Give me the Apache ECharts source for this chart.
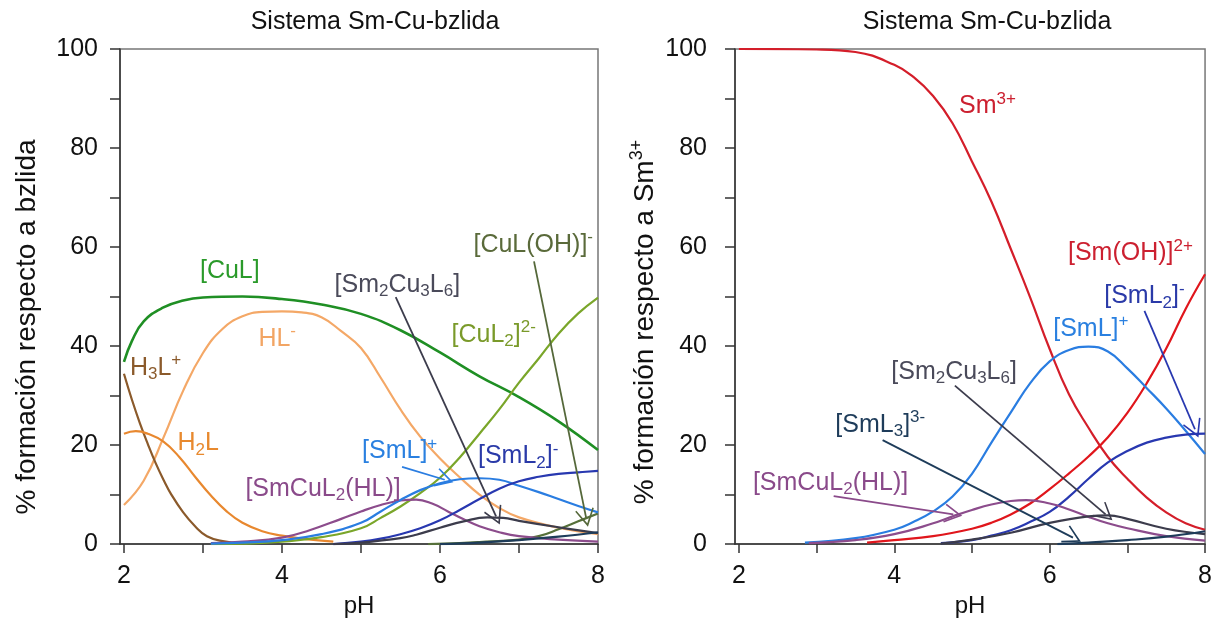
<!DOCTYPE html>
<html>
<head>
<meta charset="utf-8">
<script src="https://cdn.jsdelivr.net/npm/echarts@6/dist/echarts.min.js"></script>
<style>
  html, body { margin: 0; padding: 0; background: #ffffff; }
  #chart { width: 1215px; height: 623px; }
</style>
</head>
<body>
<div id="chart"></div>
<script>
// ---- Species distribution, % relative to bzlida (left panel) ----
const cuL      = [[2,36.8],[2.1,41],[2.25,45],[2.5,47.8],[2.75,49.2],[3,49.8],[3.5,50],[4,49.5],[4.5,48.4],[5,46.5],[5.5,43.2],[6,38.7],[6.5,33.9],[7,29.7],[7.5,24.8],[8,19]];
const hL       = [[2,7.9],[2.25,12.8],[2.5,21.5],[2.75,31],[3,38.6],[3.25,43.5],[3.5,46],[3.75,46.9],[4,47],[4.25,46.8],[4.5,45.8],[4.75,43],[5,39.6],[5.25,33.6],[5.5,27.2],[5.75,21.7],[6,17.3],[6.25,13.5],[6.5,10],[6.75,7.3],[7,5.4],[7.5,3.3],[8,2]];
const h3L      = [[2,34.4],[2.1,29.2],[2.2,24.5],[2.3,20.3],[2.4,16.4],[2.5,13],[2.6,10],[2.75,6.4],[2.9,3.6],[3.05,1.6],[3.25,0.6],[3.5,0.15]];
const h2L      = [[2,22.3],[2.15,22.8],[2.3,22.3],[2.5,20.7],[2.7,17.6],[2.9,13.6],[3.1,9.8],[3.3,6.6],[3.5,4.3],[3.75,2.6],[4,1.7],[4.3,1],[4.65,0.5]];
const smCuL2HL = [[3.1,0.2],[3.5,0.5],[4,1.3],[4.35,2.8],[4.75,5.1],[5,6.6],[5.25,7.9],[5.5,8.8],[5.7,9],[5.9,8.2],[6.1,6.6],[6.3,5],[6.5,3.6],[6.75,2.4],[7,1.6],[7.5,0.9],[8,0.5]];
const smL      = [[3.1,0.1],[3.5,0.3],[4,0.8],[4.5,2],[5,4.3],[5.25,6.6],[5.5,8.9],[5.75,10.9],[6,12.3],[6.25,13.1],[6.5,13.3],[6.75,13],[7,11.8],[7.25,10.5],[7.5,9.1],[7.75,7.7],[8,6.4]];
const cuL2     = [[3.1,0],[3.5,0.1],[4,0.5],[4.5,1.4],[5,3.2],[5.25,5.3],[5.5,7.6],[5.75,10.3],[6,13.4],[6.25,17.5],[6.5,22.3],[6.75,27.2],[7,32.6],[7.25,37.5],[7.5,42.5],[7.75,46.6],[8,49.8]];
const cuLOH    = [[5.85,0],[6.25,0.2],[6.5,0.4],[7,0.9],[7.25,1.6],[7.5,3],[7.75,4.6],[8,6.2]];
const smL2     = [[4.65,0],[5,0.5],[5.25,1.1],[5.5,2],[5.75,3.2],[6,4.8],[6.25,6.9],[6.5,9.1],[6.75,11.2],[7,12.7],[7.25,13.6],[7.5,14.2],[7.75,14.5],[8,14.8]];
const sm2Cu3L6 = [[4.65,0],[5,0.3],[5.5,1.2],[5.7,1.9],[6,3.3],[6.3,4.6],[6.6,5.4],[6.8,5.3],[7,4.7],[7.5,3.4],[8,2.2]];
const smL3     = [[6,0],[6.5,0.3],[7,0.8],[7.5,1.5],[8,2.4]];

// ---- Species distribution, % relative to Sm3+ (right panel) ----
const sm3R      = [[2,100],[3,99.9],[3.5,99.4],[4,96.8],[4.25,94.3],[4.5,90.5],[4.75,85],[5,77.3],[5.25,69.2],[5.5,59.6],[5.75,49.8],[6,39.4],[6.25,30.2],[6.5,23.5],[6.75,17.6],[7,13.2],[7.25,9.4],[7.5,6.4],[7.75,4.2],[8,2.9]];
const smOHR     = [[3.65,0.3],[4,0.8],[4.5,1.6],[5,3.1],[5.25,4.3],[5.5,6],[5.75,8.2],[6,11.1],[6.25,14.3],[6.5,17.7],[6.75,21.6],[7,26.5],[7.25,32.5],[7.5,39.5],[7.75,47.5],[8,54.5]];
const smLR      = [[2.85,0.3],[3.5,1.2],[4,2.9],[4.25,4.5],[4.5,6.6],[4.75,9.6],[5,14.2],[5.25,20.5],[5.5,26.6],[5.75,32.5],[6,36.9],[6.25,39.2],[6.5,39.9],[6.75,38.9],[7,35.5],[7.25,31.5],[7.5,27.4],[7.75,22.9],[8,18.2]];
const smL2R     = [[4.6,0.2],[5,0.8],[5.25,1.7],[5.5,2.8],[5.75,4.5],[6,6.5],[6.25,9.6],[6.5,13.2],[6.75,16.5],[7,18.8],[7.25,20.5],[7.5,21.5],[7.75,22.1],[8,22.3]];
const smCuL2HLR = [[2.9,0.2],[3.5,0.8],[4,2],[4.5,4.2],[4.75,5.6],[5,6.9],[5.25,8],[5.5,8.7],[5.7,8.9],[6,8.2],[6.25,7],[6.5,5.5],[6.75,4.2],[7,3.2],[7.5,1.6],[8,0.7]];
const sm2Cu3L6R = [[4.6,0.1],[5,0.9],[5.5,2.3],[6,4.3],[6.5,5.6],[6.75,5.8],[7,5.1],[7.5,3.1],[8,2]];
const smL3R     = [[6.1,0],[6.5,0.3],[7,0.8],[7.5,1.5],[8,2.6]];

// ---- Axis ticks ----
const phTicks  = [2, 3, 4, 5, 6, 7, 8];
const phLabels = [2, 4, 6, 8];

// ---- Species labels (text, anchor in pH / %) ----
const leftLabels = [
  { t: '[CuL]', x: 3.34, y: 55.1, c: '#2a9a2a' },
  { t: 'H{sub|3}L{sup|+}', x: 2.4, y: 35.6, c: '#8b5a2b' },
  { t: 'HL{sup|-}', x: 3.94, y: 41.4, c: '#f2a564' },
  { t: 'H{sub|2}L', x: 2.94, y: 20.3, c: '#e8892e' },
  { t: '[SmCuL{sub|2}(HL)]', x: 4.52, y: 11.1, c: '#8a4a8a' },
  { t: '[SmL]{sup|+}', x: 5.49, y: 18.7, c: '#2a80e0' },
  { t: '[SmL{sub|2}]{sup|-}', x: 6.99, y: 17.7, c: '#2a3aa8' },
  { t: '[Sm{sub|2}Cu{sub|3}L{sub|6}]', x: 5.46, y: 52.3, c: '#4a4a5a' },
  { t: '[CuL{sub|2}]{sup|2-}', x: 6.68, y: 42.3, c: '#7a9a2a' },
  { t: '[CuL(OH)]{sup|-}', x: 7.18, y: 60.4, c: '#5a6a3a' }
];
const rightLabels = [
  { t: 'Sm{sup|3+}', x: 5.2, y: 88.4, c: '#cc2030' },
  { t: '[Sm(OH)]{sup|2+}', x: 7.04, y: 58.7, c: '#cc2030' },
  { t: '[SmL{sub|2}]{sup|-}', x: 7.22, y: 50, c: '#2a3aa8' },
  { t: '[SmL]{sup|+}', x: 6.53, y: 43.4, c: '#2a80e0' },
  { t: '[Sm{sub|2}Cu{sub|3}L{sub|6}]', x: 4.77, y: 34.8, c: '#4a4a5a' },
  { t: '[SmL{sub|3}]{sup|3-}', x: 3.82, y: 24, c: '#1e3c5a' },
  { t: '[SmCuL{sub|2}(HL)]', x: 3.18, y: 12.3, c: '#8a4a8a' }
];

// ---- Pointer arrows (from label to curve, in pH / %) ----
const leftArrows = [
  { from: [5.44, 49.9], to: [6.71, 5.6], c: '#3c3c4c' },
  { from: [7.19, 57.1], to: [7.85, 5.3], c: '#55683a' },
  { from: [5.52, 15.6], to: [6.06, 13.0], c: '#2a7de1' }
];
const rightArrows = [
  { from: [3.22, 9.7], to: [4.76, 6.0], c: '#8a4a8a' },
  { from: [3.85, 21], to: [6.3, 1.3], c: '#1e3c5a' },
  { from: [4.78, 32], to: [6.72, 6.0], c: '#3c3c4c' },
  { from: [7.22, 47.1], to: [7.87, 23.2], c: '#2838b0' }
];

const FONT = '"Liberation Sans", Arial, Helvetica, sans-serif';
const RICH = {
  sub: { fontSize: 17, fontFamily: FONT, padding: [13, 0, 0, 0] },
  sup: { fontSize: 17, fontFamily: FONT, padding: [0, 0, 15, 0] }
};
// open chevron arrow head, tip at the top
const ARROW_HEAD = 'path://M0,0 L10,16 L8.6,16.8 L0,3.2 L-8.6,16.8 L-10,16 Z';

function curve(name, data, color, idx, width) {
  return {
    type: 'line', name, data,
    xAxisIndex: idx, yAxisIndex: idx,
    smooth: 0.45,
    symbol: 'none', showSymbol: false, silent: true,
    lineStyle: { color, width: width || 2.2 },
    itemStyle: { color }
  };
}

function annotations(idx, labels, arrows) {
  return {
    type: 'line', data: [], xAxisIndex: idx, yAxisIndex: idx, silent: true,
    markPoint: {
      symbol: 'circle', symbolSize: 1, silent: true,
      itemStyle: { color: 'rgba(0,0,0,0)' },
      label: { show: true, position: 'inside', fontFamily: FONT, fontSize: 25, rich: RICH },
      data: labels.map(l => ({
        coord: [l.x, l.y],
        label: { formatter: l.t, color: l.c }
      }))
    },
    markLine: {
      silent: true, symbol: ['none', ARROW_HEAD], symbolSize: [19, 18],
      label: { show: false }, emphasis: { disabled: true },
      lineStyle: { type: 'solid', width: 1.8 },
      data: arrows.map(a => [
        { coord: a.from, lineStyle: { color: a.c, width: 1.8, type: 'solid' } },
        { coord: a.to }
      ])
    }
  };
}

function xAxisFor(idx) {
  return {
    gridIndex: idx, type: 'value', min: 1.95, max: 8,
    name: 'pH', nameLocation: 'middle', nameGap: 48,
    nameTextStyle: { fontFamily: FONT, fontSize: 24, color: '#111' },
    axisLine: { lineStyle: { color: '#333', width: 1.5 } },
    axisTick: { show: true, length: 9, lineStyle: { color: '#333', width: 1.5 }, customValues: phTicks },
    axisLabel: { fontFamily: FONT, fontSize: 25, color: '#111', margin: 20, customValues: phLabels },
    splitLine: { show: false }
  };
}

function yAxisFor(idx, margin) {
  return {
    gridIndex: idx, type: 'value', min: 0, max: 100, interval: 10,
    axisLine: { show: true, lineStyle: { color: '#333', width: 1.5 } },
    axisTick: { show: true, length: 10, lineStyle: { color: '#333', width: 1.5 } },
    axisLabel: {
      fontFamily: FONT, fontSize: 25, color: '#111', margin,
      formatter: v => (v % 20 === 0 ? String(v) : '')
    },
    splitLine: { show: false }
  };
}

const chart = echarts.init(document.getElementById('chart'), null, { renderer: 'canvas' });

chart.setOption({
  animation: false,
  backgroundColor: '#ffffff',
  grid: [
    { left: 120, top: 49, width: 478, height: 497, show: true, borderColor: '#777', borderWidth: 1.5, containLabel: false },
    { left: 735, top: 49, width: 476, height: 497, show: true, borderColor: '#777', borderWidth: 1.5, containLabel: false }
  ],
  xAxis: [xAxisFor(0), xAxisFor(1)],
  yAxis: [yAxisFor(0, 22), yAxisFor(1, 28)],
  graphic: [
    { type: 'text', x: 375, y: 22, silent: true,
      style: { text: 'Sistema Sm-Cu-bzlida', fontFamily: FONT, fontSize: 25, fill: '#111', align: 'center', verticalAlign: 'middle' } },
    { type: 'text', x: 987, y: 22, silent: true,
      style: { text: 'Sistema Sm-Cu-bzlida', fontFamily: FONT, fontSize: 25, fill: '#111', align: 'center', verticalAlign: 'middle' } },
    { type: 'text', x: 27, y: 327, rotation: Math.PI / 2, silent: true,
      style: { text: '% formación respecto a bzlida', fontFamily: FONT, fontSize: 28, fill: '#111', align: 'center', verticalAlign: 'middle' } },
    { type: 'text', x: 645, y: 322, rotation: Math.PI / 2, silent: true,
      style: { text: '% formación respecto a Sm{sup|3+}', fontFamily: FONT, fontSize: 28, fill: '#111', align: 'center', verticalAlign: 'middle',
        rich: { sup: { fontSize: 18, fontFamily: FONT, fill: '#111', padding: [0, 0, 16, 0] } } } }
  ],
  series: [
    curve('[CuL]', cuL, '#1f8f24', 0, 2.6),
    curve('HL-', hL, '#f4a867', 0),
    curve('H3L+', h3L, '#8b5a2b', 0),
    curve('H2L', h2L, '#e8882f', 0),
    curve('[CuL2]2-', cuL2, '#7aa62a', 0),
    curve('[CuL(OH)]-', cuLOH, '#56703a', 0),
    curve('[SmCuL2(HL)]', smCuL2HL, '#8c4c8c', 0),
    curve('[SmL]+', smL, '#2a7de1', 0),
    curve('[SmL2]-', smL2, '#2838b0', 0),
    curve('[Sm2Cu3L6]', sm2Cu3L6, '#3c3c4c', 0),
    curve('[SmL3]3-', smL3, '#1e3c5a', 0),
    annotations(0, leftLabels, leftArrows),

    curve('Sm3+', sm3R, '#d41e2a', 1),
    curve('[Sm(OH)]2+', smOHR, '#e0161c', 1),
    curve('[SmL]+', smLR, '#2a7de1', 1),
    curve('[SmL2]-', smL2R, '#2838b0', 1),
    curve('[SmCuL2(HL)]', smCuL2HLR, '#8c4c8c', 1),
    curve('[Sm2Cu3L6]', sm2Cu3L6R, '#3c3c4c', 1),
    curve('[SmL3]3-', smL3R, '#1e3c5a', 1),
    annotations(1, rightLabels, rightArrows)
  ]
});
</script>
</body>
</html>
